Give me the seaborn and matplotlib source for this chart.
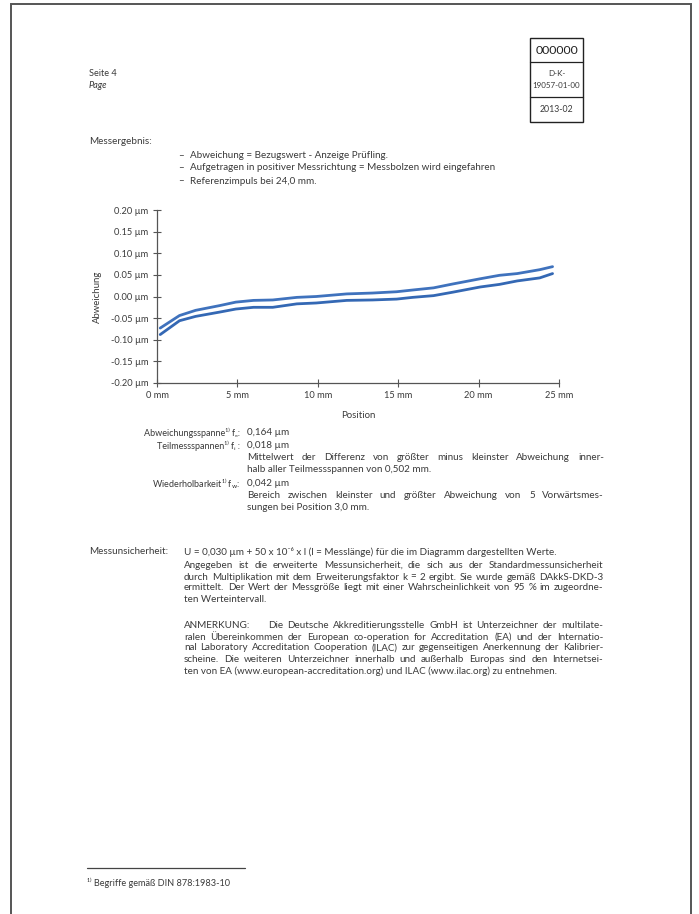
import numpy as np
import pandas as pd
import matplotlib
matplotlib.use('Agg')
import matplotlib.pyplot as plt
from matplotlib.patches import Rectangle
import seaborn as sns

position_mm = [0.2, 1.4, 2.4, 3.9, 4.9, 6.0, 7.2, 8.7, 9.9, 11.8, 13.4, 14.9,
               15.9, 17.2, 18.4, 20.1, 21.3, 22.4, 23.8, 24.6]
abw_oben = [-0.073, -0.044, -0.032, -0.021, -0.013, -0.009, -0.008, -0.002,
            0.000, 0.006, 0.008, 0.011, 0.015, 0.020, 0.029, 0.041, 0.049,
            0.053, 0.062, 0.069]
abw_unten = [-0.088, -0.056, -0.046, -0.036, -0.029, -0.025, -0.025, -0.017,
             -0.015, -0.009, -0.008, -0.006, -0.002, 0.002, 0.010, 0.022,
             0.028, 0.036, 0.043, 0.053]

x_ticks = [0, 5, 10, 15, 20, 25]
y_ticks = [-0.20, -0.15, -0.10, -0.05, 0.00, 0.05, 0.10, 0.15, 0.20]

W, H = 699, 914
TXT = '#3a3a3a'
FS = 7.1


def fx(x):
    return x / W


def fy(y):
    return 1 - y / H


def main():
    sns.set_style('white')
    plt.rcParams['font.family'] = ['Lato', 'DejaVu Sans']
    plt.rcParams['mathtext.fontset'] = 'custom'
    plt.rcParams['mathtext.rm'] = 'Liberation Sans Narrow'
    plt.rcParams['mathtext.it'] = 'Liberation Sans Narrow:italic'
    plt.rcParams['mathtext.bf'] = 'Liberation Sans Narrow:bold'

    fig = plt.figure(figsize=(W / 100, H / 100), dpi=100)
    renderer = fig.canvas.get_renderer()

    def txt(x, y, s, **kw):
        kw.setdefault('fontsize', FS)
        kw.setdefault('color', TXT)
        kw.setdefault('va', 'center')
        return fig.text(fx(x), fy(y), s, **kw)

    def justified(x0, x1, y, line):
        words = line.split(' ')
        texts = [txt(0, y, w) for w in words]
        widths = [t.get_window_extent(renderer).width for t in texts]
        gap = (x1 - x0 - sum(widths)) / (len(words) - 1)
        x = x0
        for t, w in zip(texts, widths):
            t.set_x(fx(x))
            x += w + gap

    # page border
    fig.add_artist(Rectangle((fx(11), fy(918)), fx(691) - fx(11), fy(4) - fy(918),
                             transform=fig.transFigure, fill=False,
                             edgecolor='#555555', lw=1.4))

    # header
    txt(89, 74, 'Seite 4', fontsize=6.6)
    txt(89, 86, 'Page', style='italic', fontsize=6.6)
    fig.add_artist(Rectangle((fx(530), fy(122)), fx(583) - fx(530), fy(38) - fy(122),
                             transform=fig.transFigure, fill=False,
                             edgecolor='#222222', lw=1.0))
    for yy in [62, 97]:
        fig.add_artist(plt.Line2D([fx(530), fx(583)], [fy(yy), fy(yy)],
                                  transform=fig.transFigure, color='#222222', lw=0.9))
    txt(556.5, 51, '000000', fontsize=8.8, ha='center', color='#222222')
    txt(556.5, 74, 'D-K-', fontsize=5.8, ha='center')
    txt(556.5, 86, '19057-01-00', fontsize=5.8, ha='center')
    txt(556.5, 110, '2013-02', fontsize=6.3, ha='center')

    txt(89, 141, 'Messergebnis:')
    bullets = ['Abweichung = Bezugswert - Anzeige Prüfling.',
               'Aufgetragen in positiver Messrichtung = Messbolzen wird eingefahren',
               'Referenzimpuls bei 24,0 mm.']
    for yy, b in zip([156, 168, 181], bullets):
        txt(178, yy, '–')
        txt(190, yy, b)

    # chart
    ax = fig.add_axes([fx(157), fy(383), fx(559) - fx(157), fy(210) - fy(383)])
    df = pd.DataFrame({
        'Position': position_mm * 2,
        'Abweichung': abw_oben + abw_unten,
        'Messreihe': ['oben'] * len(abw_oben) + ['unten'] * len(abw_unten),
    })
    sns.lineplot(data=df, x='Position', y='Abweichung', hue='Messreihe',
                 palette=['#3f72bd', '#3468b4'], linewidth=2.0, legend=False, ax=ax)
    ax.set_xlim(0, 25)
    ax.set_ylim(-0.2, 0.2)
    ax.set_xticks(x_ticks)
    ax.set_xticklabels([f'{v} mm' for v in x_ticks])
    ax.set_yticks(y_ticks)
    ax.set_yticklabels([f'{v:.2f} µm' for v in y_ticks])
    for side in ['top', 'right']:
        ax.spines[side].set_visible(False)
    for side in ['left', 'bottom']:
        ax.spines[side].set_color('#555555')
        ax.spines[side].set_linewidth(0.9)
    ax.tick_params(axis='both', direction='inout', length=6, width=0.8,
                   bottom=True, left=True,
                   color='#555555', labelsize=6.7, labelcolor=TXT, pad=3)
    ax.set_xlabel('Position', fontsize=6.9, color=TXT)
    ax.set_ylabel('Abweichung', fontsize=6.9, color=TXT)
    ax.xaxis.set_label_coords(0.5, -(411 - 383) / 173)
    ax.yaxis.set_label_coords((102 - 157) / 402, 0.5)
    ax.set_facecolor('white')

    # Kennwerte (schmale Beschriftung links)
    narrow = ['Liberation Sans Narrow', 'Lato', 'DejaVu Sans']
    lab = 6.5
    txt(240, 433, 'Abweichungsspanne¹⁾ fₑ:', ha='right', fontsize=lab, family=narrow)
    txt(247, 433, '0,164 µm')
    txt(240, 446, 'Teilmessspannen¹⁾ fᵢ :', ha='right', fontsize=lab, family=narrow)
    txt(247, 446, '0,018 µm')
    justified(247, 604, 457, 'Mittelwert der Differenz von größter minus kleinster Abweichung inner-')
    txt(247, 469, 'halb aller Teilmessspannen von 0,502 mm.')
    txt(240, 484, 'Wiederholbarkeit¹⁾ f$_\\mathrm{w}$:', ha='right', fontsize=lab, family=narrow)
    txt(247, 484, '0,042 µm')
    justified(247, 604, 496, 'Bereich zwischen kleinster und größter Abweichung von 5 Vorwärtsmes-')
    txt(247, 508, 'sungen bei Position 3,0 mm.')

    # Messunsicherheit
    txt(89, 552, 'Messunsicherheit:')
    txt(184, 552, 'U = 0,030 µm + 50 x 10⁻⁶ x l (l = Messlänge) für die im Diagramm dargestellten Werte.')
    unsich = ['Angegeben ist die erweiterte Messunsicherheit, die sich aus der Standardmessunsicherheit',
              'durch Multiplikation mit dem Erweiterungsfaktor k = 2 ergibt. Sie wurde gemäß DAkkS-DKD-3',
              'ermittelt. Der Wert der Messgröße liegt mit einer Wahrscheinlichkeit von 95 % im zugeordne-']
    for yy, line in zip([565, 577, 588], unsich):
        justified(184, 603, yy, line)
    txt(184, 599, 'ten Werteintervall.')

    txt(184, 626, 'ANMERKUNG:')
    justified(268, 603, 626, 'Die Deutsche Akkreditierungsstelle GmbH ist Unterzeichner der multilate-')
    anm = ['ralen Übereinkommen der European co-operation for Accreditation (EA) und der Internatio-',
           'nal Laboratory Accreditation Cooperation (ILAC) zur gegenseitigen Anerkennung der Kalibrier-',
           'scheine. Die weiteren Unterzeichner innerhalb und außerhalb Europas sind den Internetsei-']
    for yy, line in zip([637, 648, 660], anm):
        justified(184, 603, yy, line)
    txt(184, 671, 'ten von EA (www.european-accreditation.org) und ILAC (www.ilac.org) zu entnehmen.')

    # Fussnote
    fig.add_artist(plt.Line2D([fx(87), fx(245)], [fy(868), fy(868)],
                              transform=fig.transFigure, color='#444444', lw=0.9))
    txt(87, 883, '¹⁾ Begriffe gemäß DIN 878:1983-10', fontsize=6.6)

    fig.savefig('out.png', dpi=100)
    plt.close(fig)


if __name__ == '__main__':
    main()
